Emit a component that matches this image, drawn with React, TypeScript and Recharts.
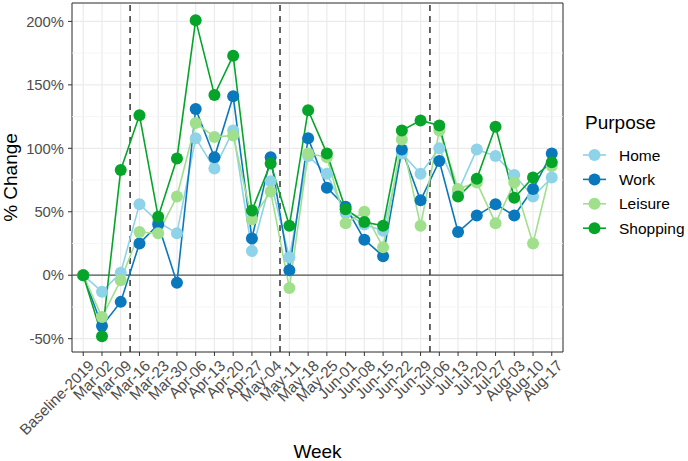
import React from 'react';
import { LineChart, Line, XAxis, YAxis, CartesianGrid, ReferenceLine, ReferenceArea } from 'recharts';

const weeks = [
  'Baseline-2019', 'Mar-02', 'Mar-09', 'Mar-16', 'Mar-23', 'Mar-30',
  'Apr-06', 'Apr-13', 'Apr-20', 'Apr-27', 'May-04', 'May-11', 'May-18', 'May-25',
  'Jun-01', 'Jun-08', 'Jun-15', 'Jun-22', 'Jun-29', 'Jul-06', 'Jul-13', 'Jul-20', 'Jul-27',
  'Aug-03', 'Aug-10', 'Aug-17',
];
const home = [0, -13, 2, 56, 42, 33, 108, 84, 114, 19, 74, 14, 94, 80, 49, 40, 35, 96, 80, 100, 66, 99, 94, 79, 62, 77];
const work = [0, -40, -21, 25, 40, -6, 131, 93, 141, 29, 93, 4, 108, 69, 54, 28, 15, 99, 59, 90, 34, 47, 56, 47, 68, 96];
const leisure = [0, -33, -4, 34, 33, 62, 120, 109, 110, 44, 66, -10, 96, 93, 41, 50, 22, 107, 39, 114, 68, 73, 41, 73, 25, 86];
const shopping = [0, -48, 83, 126, 46, 92, 201, 142, 173, 51, 88, 39, 130, 96, 52, 42, 39, 114, 122, 118, 62, 76, 117, 61, 77, 89];

const yTicks = [-50, 0, 50, 100, 150, 200];
const yMinor = [-25, 25, 75, 125, 175];
const periodBreaks = [2.5, 10.5, 18.5];

const series = [
  { key: 'Home', color: '#8ed3e8', values: home },
  { key: 'Work', color: '#0a78bd', values: work },
  { key: 'Leisure', color: '#a0e08c', values: leisure },
  { key: 'Shopping', color: '#06a52a', values: shopping },
];

const data = weeks.map((w, i) => {
  const row: any = { idx: i, week: w };
  series.forEach((s) => { row[s.key] = s.values[i]; });
  return row;
});

const FONT = '"Liberation Sans", Arial, Helvetica, sans-serif';
const X_MIN = -0.6;
const X_MAX = weeks.length - 1 + 0.6;
const Y_MIN = -60.5;
const Y_MAX = 214.5;

const XTick = (props: any) => {
  const { x, y, payload } = props;
  const label = weeks[payload.value];
  return (
    <g transform={`translate(${x + 4},${y + 3})`}>
      <text
        x={0}
        y={0}
        dy="0.72em"
        textAnchor="end"
        transform="rotate(-45)"
        fill="#4d4d4d"
        fontSize={15.3}
        fontFamily={FONT}
      >
        {label}
      </text>
    </g>
  );
};

const LegendBox = () => (
  <svg width={110} height={140} style={{ display: 'block' }}>
    <text x={9} y={21} fontSize={19} fontFamily={FONT} fill="#000">Purpose</text>
    {series.map((s, i) => {
      const cy = 47 + i * 24.4;
      return (
        <g key={s.key}>
          <line x1={7} x2={30} y1={cy} y2={cy} stroke={s.color} strokeWidth={1.6} />
          <circle cx={18.5} cy={cy} r={6} fill={s.color} />
          <text x={43} y={cy} dy="0.36em" fontSize={15.5} fontFamily={FONT} fill="#000">{s.key}</text>
        </g>
      );
    })}
  </svg>
);

export default function App() {
  return (
    <div style={{ position: 'absolute', left: 0, top: 0, width: 688, height: 461, background: '#fff' }}>
      <LineChart
        width={688}
        height={461}
        data={data}
        margin={{ top: 3, right: 125, bottom: 0, left: 0 }}
      >
        <CartesianGrid stroke="#ebebeb" strokeWidth={1.2} />
        {yMinor.map((v) => (
          <ReferenceLine key={`m${v}`} y={v} stroke="#f4f4f4" strokeWidth={0.8} />
        ))}
        <XAxis
          dataKey="idx"
          type="number"
          domain={[X_MIN, X_MAX]}
          ticks={weeks.map((_, i) => i)}
          interval={0}
          allowDataOverflow
          axisLine={false}
          tickLine={{ stroke: '#333333', strokeWidth: 1 }}
          tickSize={4}
          tickMargin={0}
          height={109}
          tick={<XTick />}
          label={{
            content: () => (
              <text x={317.5} y={458} textAnchor="middle" fontSize={19} fontFamily={FONT} fill="#000">Week</text>
            ),
          }}
        />
        <YAxis
          type="number"
          domain={[Y_MIN, Y_MAX]}
          ticks={yTicks}
          allowDataOverflow
          width={72}
          axisLine={false}
          tickLine={{ stroke: '#333333', strokeWidth: 1 }}
          tickSize={4}
          tickMargin={4}
          tickFormatter={(v: number) => `${v}%`}
          tick={{ fill: '#4d4d4d', fontSize: 14.8, fontFamily: FONT }}
          label={{
            content: () => (
              <text
                x={17}
                y={177.5}
                textAnchor="middle"
                transform="rotate(-90, 17, 177.5)"
                fontSize={19}
                fontFamily={FONT}
                fill="#000"
              >
                % Change
              </text>
            ),
          }}
        />
        <ReferenceLine y={0} stroke="#555555" strokeWidth={1.2} />
        {periodBreaks.map((b) => (
          <ReferenceLine key={`b${b}`} x={b} stroke="#333333" strokeWidth={1.5} strokeDasharray="6 5" />
        ))}
        {series.map((s) => (
          <Line
            key={`l${s.key}`}
            dataKey={s.key}
            stroke={s.color}
            strokeWidth={1.6}
            dot={false}
            activeDot={false}
            type="linear"
            isAnimationActive={false}
            legendType="none"
          />
        ))}
        {series.map((s) => (
          <Line
            key={`d${s.key}`}
            dataKey={s.key}
            stroke="none"
            dot={{ r: 6, fill: s.color, stroke: 'none' }}
            activeDot={false}
            type="linear"
            isAnimationActive={false}
            legendType="none"
          />
        ))}
        <ReferenceArea
          x1={X_MIN}
          x2={X_MAX}
          y1={Y_MIN}
          y2={Y_MAX}
          fill="none"
          stroke="#333333"
          strokeWidth={1}
          ifOverflow="visible"
        />
      </LineChart>
      <div style={{ position: 'absolute', left: 576, top: 108 }}>
        <LegendBox />
      </div>
    </div>
  );
}
